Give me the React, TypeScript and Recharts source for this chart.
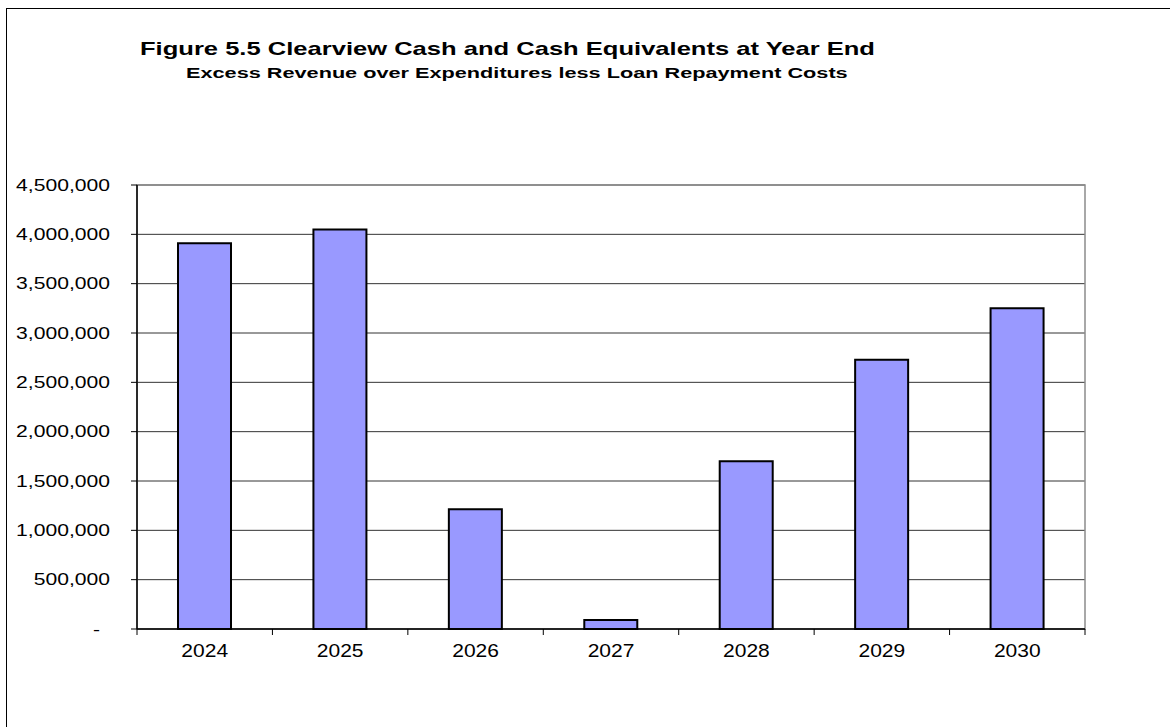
import React from 'react';
import { BarChart, Bar, XAxis, YAxis, CartesianGrid, ReferenceArea } from 'recharts';

const years = ['2024', '2025', '2026', '2027', '2028', '2029', '2030'];
const cashAtYearEnd = [3910000, 4050000, 1213000, 91000, 1700000, 2728000, 3252000];
const yTicks = [0, 500000, 1000000, 1500000, 2000000, 2500000, 3000000, 3500000, 4000000, 4500000];
const title = 'Figure 5.5 Clearview Cash and Cash Equivalents at Year End';
const subtitle = 'Excess Revenue over Expenditures less Loan Repayment Costs';

const data = years.map((y, i) => ({ year: y, cash: cashAtYearEnd[i] }));

const FONT = '"Liberation Sans", Arial, sans-serif';

const YTick = (props: any) => {
  const { x, y, payload } = props;
  const v = payload.value as number;
  const label = v === 0 ? '-' : v.toLocaleString('en-US');
  const tx = v === 0 ? x - 10 : x;
  return (
    <text
      transform={`translate(${tx},${y}) scale(1.32,1)`}
      dy="0.36em"
      textAnchor="end"
      fontFamily={FONT}
      fontSize={16}
      fill="#000"
    >
      {label}
    </text>
  );
};

const XTick = (props: any) => {
  const { x, y, payload, index, visibleTicksCount, width } = props;
  const half = payload.offset || (width / visibleTicksCount) / 2;
  const axisY = y - 8;
  return (
    <g>
      <line x1={x - half} x2={x - half} y1={axisY} y2={axisY + 6} stroke="#000" strokeWidth={1} />
      {index === visibleTicksCount - 1 && (
        <line x1={x + half} x2={x + half} y1={axisY} y2={axisY + 6} stroke="#000" strokeWidth={1} />
      )}
      <text
        transform={`translate(${x},${y + 20}) scale(1.2,1)`}
        textAnchor="middle"
        fontFamily={FONT}
        fontSize={17.5}
        fill="#000"
      >
        {payload.value}
      </text>
    </g>
  );
};

export default function App() {
  return (
    <div style={{ position: 'absolute', left: 0, top: 0, width: 1170, height: 727, overflow: 'hidden', background: '#fff' }}>
      <div style={{ position: 'absolute', left: 6, top: 8, width: 1300, height: 900, border: '1px solid #000', boxSizing: 'border-box' }} />
      <svg style={{ position: 'absolute', left: 0, top: 0 }} width={1170} height={727}>
        <text transform="translate(140,55) scale(1.42,1)" fontFamily={FONT} fontWeight="bold" fontSize={18} fill="#000">{title}</text>
        <text transform="translate(186,78) scale(1.4,1)" fontFamily={FONT} fontWeight="bold" fontSize={15.5} fill="#000">{subtitle}</text>
      </svg>
      <div style={{ position: 'absolute', left: 0, top: 0 }}>
        <BarChart width={1170} height={727} data={data} margin={{ top: 185, right: 85, bottom: 58, left: 0 }}>
          <CartesianGrid vertical={false} stroke="#333" strokeWidth={1} />
          <ReferenceArea y1={0} y2={4500000} fill="none" stroke="#8c8c8c" strokeWidth={1.5} ifOverflow="visible" />
          <XAxis
            dataKey="year"
            height={40}
            axisLine={{ stroke: '#000', strokeWidth: 1.5 }}
            tickLine={false}
            tickSize={0}
            tickMargin={8}
            tick={<XTick />}
            interval={0}
          />
          <YAxis
            width={137}
            domain={[0, 4500000]}
            ticks={yTicks}
            interval={0}
            axisLine={{ stroke: '#000', strokeWidth: 1.5 }}
            tickLine={{ stroke: '#000' }}
            tickSize={6}
            tickMargin={21}
            tick={<YTick />}
          />
          <Bar dataKey="cash" fill="#9999FF" stroke="#000" strokeWidth={2} barSize={53} isAnimationActive={false} />
        </BarChart>
      </div>
    </div>
  );
}
